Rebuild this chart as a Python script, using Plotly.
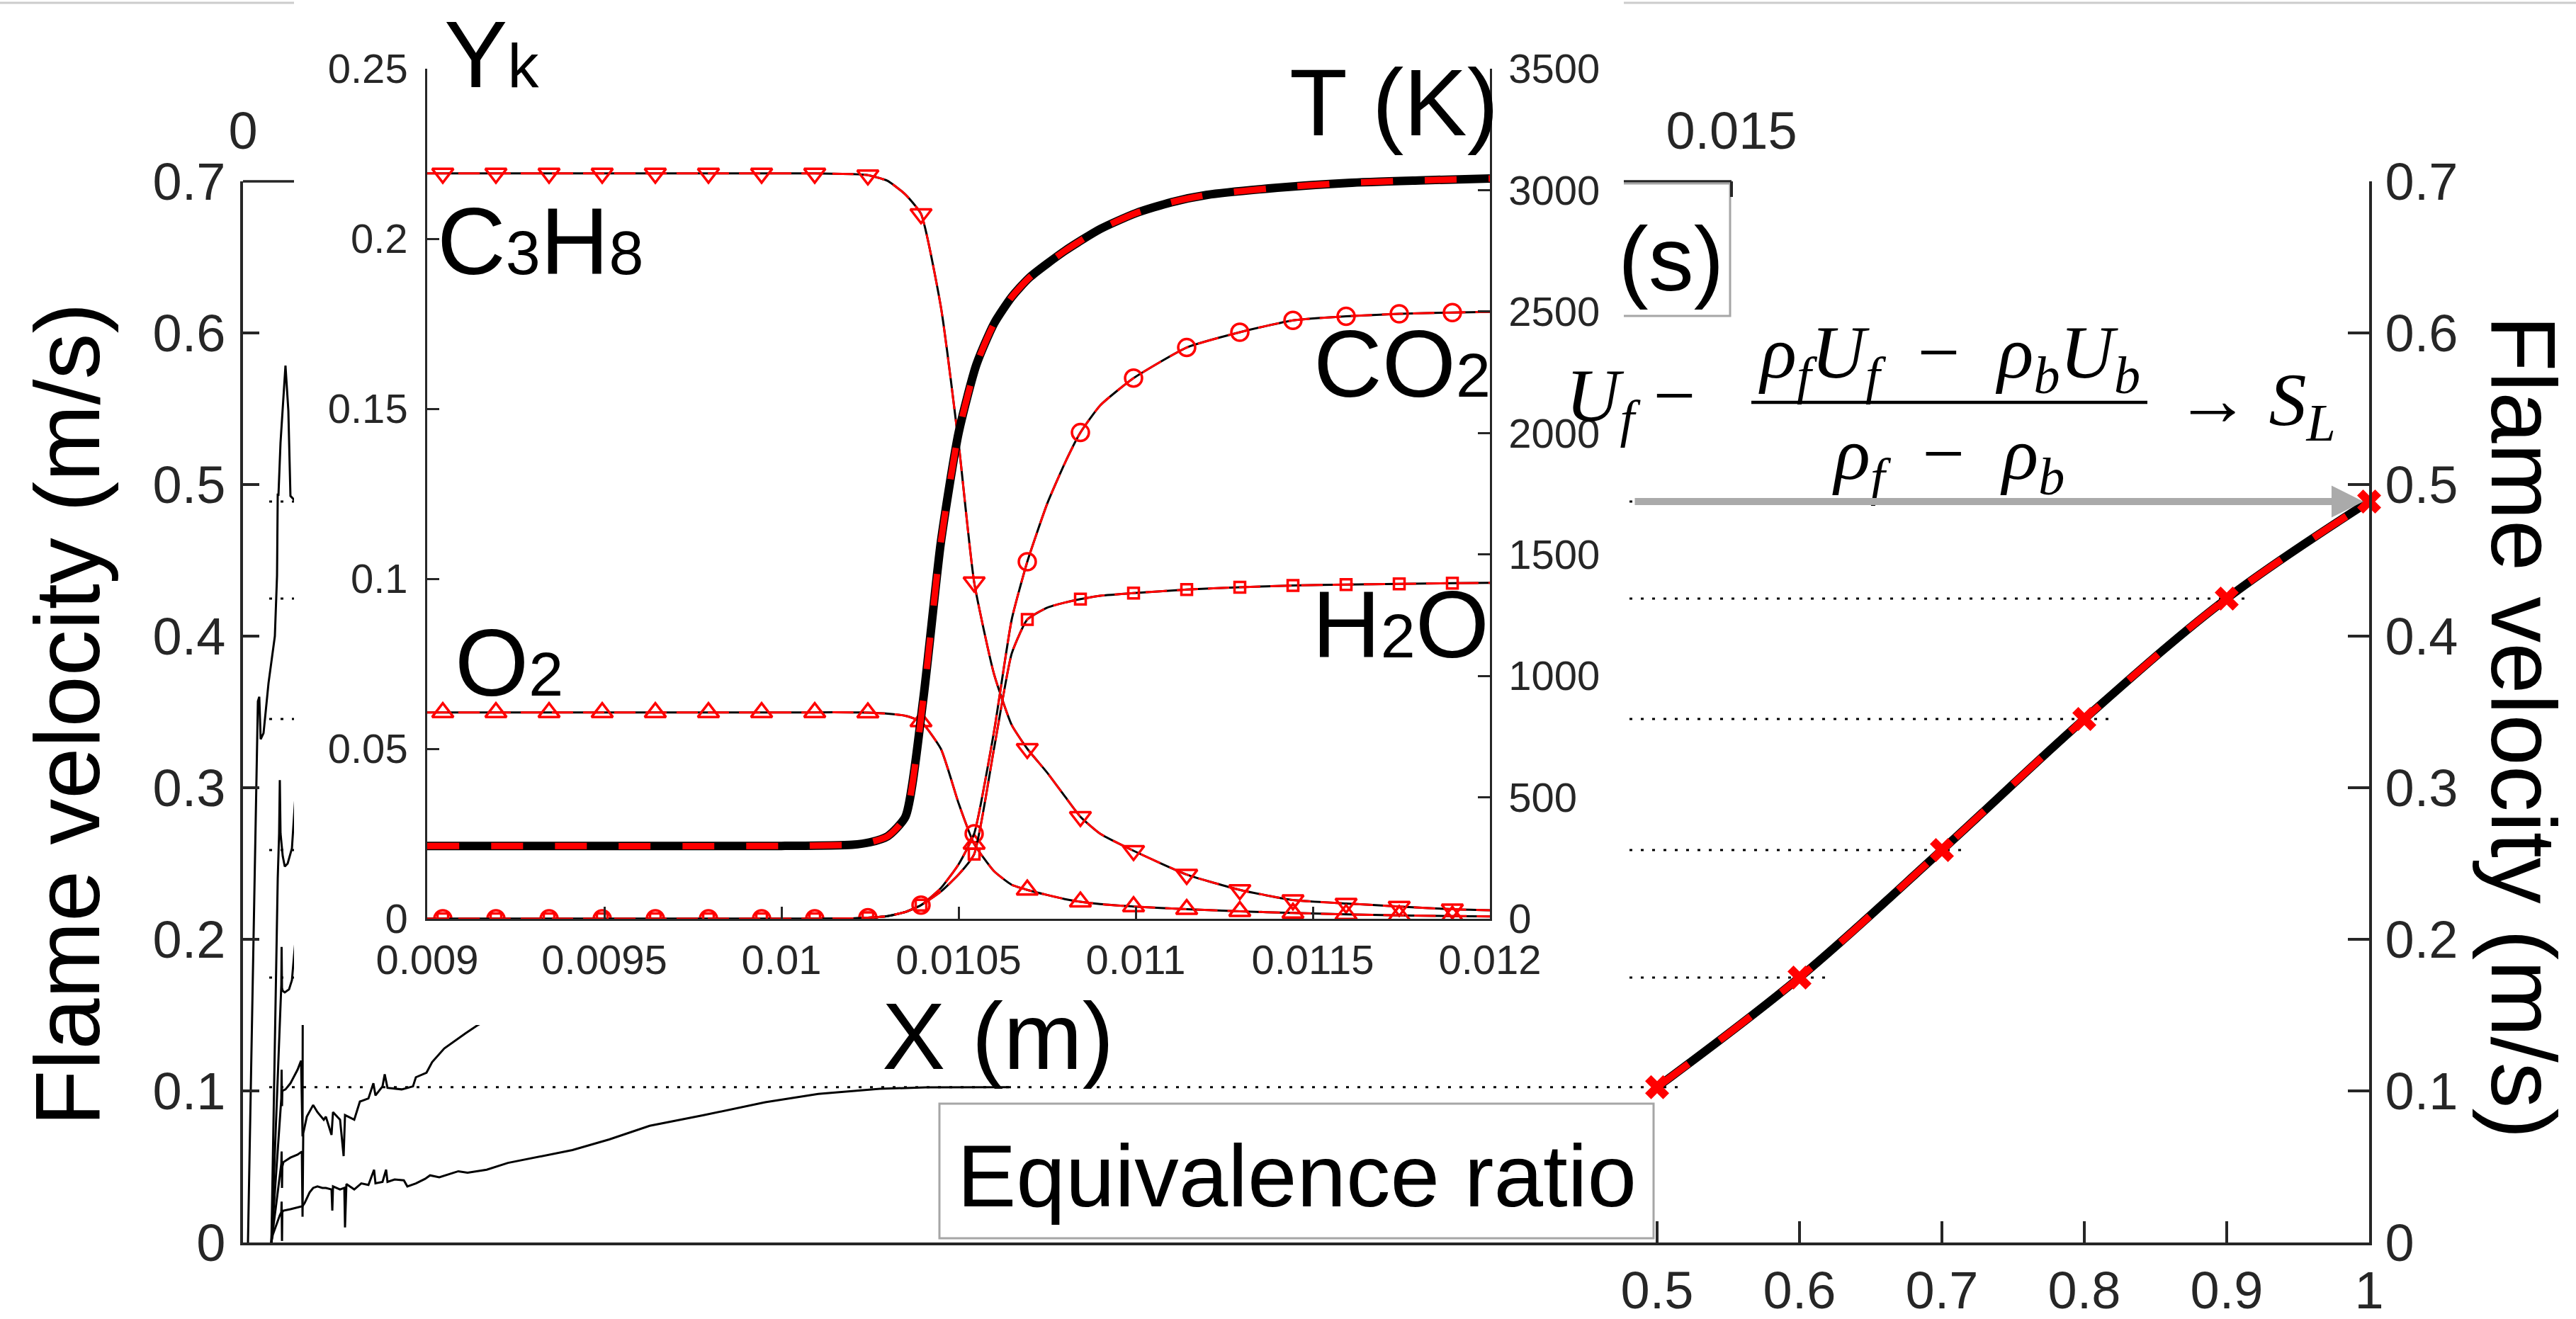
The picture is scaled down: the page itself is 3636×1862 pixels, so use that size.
import plotly.graph_objects as go

W, H = 3636, 1862
SANS = "Liberation Sans, Arial, Helvetica, sans-serif"
SERIF = "Liberation Serif, DejaVu Serif, serif"
AX = "#262626"

def px(x):
    return x / W

def py(y):
    return 1 - y / H

# ---------------- data: flame velocity transients vs time ----------------
T_PHI10 = [5.0e-5, 1.50e-4, 1.64e-4, 1.78e-4, 2.07e-4, 2.57e-4, 3.21e-4, 3.43e-4, 3.50e-4,
           3.57e-4, 3.78e-4, 4.28e-4, 4.57e-4, 4.78e-4, 5.14e-4, 6.00e-4]
V_PHI10 = [0.0, 0.357, 0.360, 0.332, 0.336, 0.369, 0.400, 0.440, 0.494,
           0.4925, 0.5276, 0.5785, 0.5486, 0.4925, 0.490, 0.490]

T_PHI09 = [2.86e-4, 3.50e-4, 3.64e-4, 3.71e-4, 3.78e-4, 4.00e-4, 4.21e-4, 4.50e-4, 4.93e-4, 5.21e-4, 6.00e-4]
V_PHI09 = [0.0, 0.240, 0.270, 0.305, 0.270, 0.255, 0.248, 0.250, 0.260, 0.288, 0.360]

T_PHI08 = [2.86e-4, 3.79e-4, 3.86e-4, 3.89e-4, 3.93e-4, 4.00e-4, 4.21e-4, 4.64e-4, 4.93e-4, 5.14e-4, 6.00e-4]
V_PHI08 = [0.0, 0.165, 0.170, 0.195, 0.168, 0.166, 0.165, 0.167, 0.173, 0.189, 0.250]

T_PHI07 = [2.86e-4, 3.86e-4, 3.89e-4, 3.93e-4, 3.96e-4, 4.28e-4, 4.78e-4, 5.50e-4, 5.85e-4, 6.00e-4, 6.03e-4]
V_PHI07 = [0.0, 0.095, 0.114, 0.090, 0.100, 0.101, 0.105, 0.114, 0.120, 0.070, 0.200]

T_PHI06 = [2.86e-4, 3.86e-4, 3.89e-4, 3.93e-4, 3.96e-4, 4.07e-4, 4.78e-4, 5.50e-4, 5.93e-4, 6.00e-4,
           6.07e-4, 6.43e-4, 7.07e-4, 7.50e-4, 8.14e-4, 8.35e-4, 8.92e-4, 9.07e-4, 9.78e-4, 1.014e-3,
           1.028e-3, 1.121e-3, 1.178e-3, 1.264e-3, 1.314e-3, 1.335e-3, 1.406e-3, 1.428e-3, 1.456e-3,
           1.599e-3, 1.713e-3, 1.742e-3, 1.849e-3, 1.906e-3, 2.028e-3, 2.242e-3, 2.356e-3, 2.549e-3]
V_PHI06 = [0.0, 0.052, 0.060, 0.036, 0.050, 0.053, 0.056, 0.058, 0.060, 0.017,
           0.072, 0.083, 0.0907, 0.086, 0.081, 0.083, 0.071, 0.086, 0.081, 0.057,
           0.084, 0.081, 0.093, 0.095, 0.105, 0.097, 0.103, 0.111, 0.102,
           0.101, 0.103, 0.109, 0.112, 0.119, 0.128, 0.138, 0.143, 0.150]

T_PHI05 = [2.86e-4, 3.00e-4, 3.71e-4, 3.86e-4, 3.89e-4, 3.93e-4, 3.96e-4, 4.07e-4, 4.78e-4, 5.50e-4,
           6.00e-4, 6.21e-4, 6.71e-4, 7.07e-4, 7.50e-4, 8.00e-4, 8.35e-4, 8.92e-4, 9.00e-4, 9.07e-4,
           9.78e-4, 1.021e-3, 1.028e-3, 1.042e-3, 1.121e-3, 1.192e-3, 1.264e-3, 1.321e-3, 1.335e-3,
           1.406e-3, 1.442e-3, 1.456e-3, 1.528e-3, 1.621e-3, 1.656e-3, 1.742e-3, 1.835e-3, 1.885e-3,
           1.978e-3, 2.120e-3, 2.170e-3, 2.263e-3, 2.456e-3, 2.670e-3, 3.027e-3, 3.320e-3, 3.691e-3,
           4.098e-3, 4.641e-3, 5.262e-3, 5.797e-3, 6.418e-3, 6.882e-3, 7.739e-3]
V_PHI05 = [0.0, 0.005, 0.018, 0.020, 0.027, 0.001, 0.020, 0.021, 0.022, 0.023,
           0.024, 0.026, 0.033, 0.036, 0.037, 0.036, 0.036, 0.035, 0.021, 0.037,
           0.035, 0.036, 0.010, 0.0385, 0.035, 0.039, 0.038, 0.048, 0.039,
           0.040, 0.048, 0.040, 0.0416, 0.041, 0.037, 0.039, 0.042, 0.0443,
           0.043, 0.046, 0.047, 0.046, 0.048, 0.0525, 0.057, 0.061, 0.068,
           0.077, 0.084, 0.0925, 0.098, 0.1014, 0.1023, 0.1025]

TIME_CURVES = [(T_PHI10, V_PHI10), (T_PHI09, V_PHI09), (T_PHI08, V_PHI08),
               (T_PHI07, V_PHI07), (T_PHI06, V_PHI06), (T_PHI05, V_PHI05)]

# ---------------- data: laminar flame speed vs equivalence ratio ----------------
PHI = [0.5, 0.6, 0.7, 0.8, 0.9, 1.0]
S_L = [0.1025, 0.1748, 0.2589, 0.3453, 0.4248, 0.4888]
PHI_TICKTEXT = ["0.5", "0.6", "0.7", "0.8", "0.9", "1"]
VEL_TICKS = [0, 0.1, 0.2, 0.3, 0.4, 0.5, 0.6, 0.7]
VEL_TICKTEXT = ["0", "0.1", "0.2", "0.3", "0.4", "0.5", "0.6", "0.7"]
TIME_TICKS = [0, 0.015]
TIME_TICKTEXT = ["0", "0.015"]

# ---------------- data: inset flame structure ----------------
X_T = [0.0090, 0.0100, 0.0102, 0.01025, 0.0103, 0.01035, 0.0104, 0.01045, 0.0105, 0.01055,
       0.0106, 0.01065, 0.0107, 0.0108, 0.0109, 0.0110, 0.0111, 0.0112, 0.0114, 0.0116,
       0.0118, 0.0120]
TEMP = [300, 300, 305, 315, 340, 420, 900, 1550, 2000, 2280,
        2450, 2560, 2640, 2750, 2840, 2905, 2950, 2980, 3010, 3030,
        3040, 3048]

X_SP = [0.0090, 0.009044, 0.009194, 0.009344, 0.009494, 0.009644, 0.009794, 0.009944, 0.010094,
        0.0102, 0.010244, 0.0103, 0.01035, 0.010394, 0.01045, 0.0105, 0.010544, 0.0106, 0.01065,
        0.010694, 0.01075, 0.0108, 0.010844, 0.0109, 0.010994, 0.011144, 0.011294, 0.011444,
        0.011594, 0.011744, 0.011894, 0.0120]
Y_C3H8 = [0.2192, 0.2192, 0.2192, 0.2192, 0.2192, 0.2192, 0.2192, 0.2192, 0.2192,
          0.2190, 0.2187, 0.2170, 0.2130, 0.2073, 0.180, 0.140, 0.099, 0.072, 0.057,
          0.050, 0.043, 0.036, 0.030, 0.025, 0.020, 0.013, 0.0085, 0.0055,
          0.0045, 0.0036, 0.0028, 0.0025]
Y_O2 = [0.0607, 0.0607, 0.0607, 0.0607, 0.0607, 0.0607, 0.0607, 0.0607, 0.0607,
        0.0607, 0.0606, 0.0603, 0.0597, 0.0580, 0.050, 0.034, 0.022, 0.014, 0.010,
        0.0085, 0.0070, 0.0058, 0.0050, 0.0043, 0.0036, 0.0028, 0.0022, 0.0017,
        0.0013, 0.0010, 0.0008, 0.0007]
Y_CO2 = [0.0, 0.0, 0.0, 0.0, 0.0, 0.0, 0.0, 0.0, 0.0,
         0.0001, 0.0003, 0.0008, 0.0020, 0.0040, 0.009, 0.016, 0.025, 0.055, 0.088,
         0.105, 0.122, 0.134, 0.143, 0.151, 0.159, 0.168, 0.1725, 0.1760,
         0.1772, 0.1779, 0.1783, 0.1785]
Y_H2O = [0.0, 0.0, 0.0, 0.0, 0.0, 0.0, 0.0, 0.0, 0.0,
         0.0001, 0.0003, 0.0008, 0.0020, 0.0040, 0.008, 0.013, 0.019, 0.050, 0.078,
         0.088, 0.0915, 0.0930, 0.0940, 0.0950, 0.0958, 0.0968, 0.0975, 0.0980,
         0.0983, 0.0985, 0.0987, 0.0988]
# indices of the reference samples that carry symbols
MARK_IDX = [1, 2, 3, 4, 5, 6, 7, 8, 10, 13, 16, 19, 22, 24, 25, 26, 27, 28, 29, 30]

X_TICKS = [0.009, 0.0095, 0.010, 0.0105, 0.011, 0.0115, 0.012]
X_TICKTEXT = ["0.009", "0.0095", "0.01", "0.0105", "0.011", "0.0115", "0.012"]
YK_TICKS = [0, 0.05, 0.10, 0.15, 0.20, 0.25]
YK_TICKTEXT = ["0", "0.05", "0.1", "0.15", "0.2", "0.25"]
T_TICKS = [0, 500, 1000, 1500, 2000, 2500, 3000, 3500]
T_TICKTEXT = ["0", "500", "1000", "1500", "2000", "2500", "3000", "3500"]

# ---------------- layout constants (pixels) ----------------
MAIN_L, MAIN_R, MAIN_T, MAIN_B = 343, 3344, 256, 1754
TIME_END_PX = 2444
PHI_PER_PX = 0.1 / 201.0
INS_L, INS_R, INS_T, INS_B = 603, 2103, 97, 1297
COVER_L, COVER_R, COVER_B = 415, 2292, 1447

phi_min = 1.0 - (MAIN_R - MAIN_L) * PHI_PER_PX
t_max = 0.015 * (MAIN_R - MAIN_L) / (TIME_END_PX - MAIN_L)
DOT_START = 1.0 - (MAIN_R - 380) * PHI_PER_PX
DOT_OVER = 36 * PHI_PER_PX

fig = go.Figure()

# dotted guide lines (main x = equivalence ratio axis)
for p, s in zip(PHI, S_L):
    fig.add_trace(go.Scatter(x=[DOT_START, p + DOT_OVER], y=[s, s], mode="lines",
                             line=dict(color="black", width=3, dash="4px,12px"),
                             xaxis="x", yaxis="y", hoverinfo="skip"))

# transient curves on the time axis
for tt, vv in TIME_CURVES:
    fig.add_trace(go.Scatter(x=tt, y=vv, mode="lines", line=dict(color="black", width=3),
                             xaxis="x2", yaxis="y", hoverinfo="skip"))

# flame speed vs equivalence ratio
fig.add_trace(go.Scatter(x=PHI, y=S_L, mode="lines", line=dict(color="black", width=12, shape="spline"),
                         xaxis="x", yaxis="y2", hoverinfo="skip"))
fig.add_trace(go.Scatter(x=PHI, y=S_L, mode="lines+markers",
                         line=dict(color="red", width=10, dash="55px,55px", shape="spline"),
                         marker=dict(symbol="x", size=30, color="red"), cliponaxis=False,
                         xaxis="x", yaxis="y2", hoverinfo="skip"))

# cover subplot (white background)
fig.add_trace(go.Scatter(x=[], y=[], xaxis="x3", yaxis="y3", hoverinfo="skip"))

# inset species
species = [(Y_C3H8, "triangle-down-open", 26),
           (Y_O2, "triangle-up-open", 26),
           (Y_CO2, "circle-open", 24),
           (Y_H2O, "square-open", 15)]
for yl, sym, sz in species:
    fig.add_trace(go.Scatter(x=X_SP, y=yl, mode="lines",
                             line=dict(color="black", width=3, shape="spline", smoothing=0.5),
                             xaxis="x4", yaxis="y4", hoverinfo="skip"))
    fig.add_trace(go.Scatter(x=X_SP, y=yl, mode="lines",
                             line=dict(color="red", width=3, dash="30px,14px", shape="spline", smoothing=0.5),
                             xaxis="x4", yaxis="y4", hoverinfo="skip"))
    fig.add_trace(go.Scatter(x=[X_SP[i] for i in MARK_IDX], y=[yl[i] for i in MARK_IDX], mode="markers",
                             marker=dict(symbol=sym, size=sz, color="red", line=dict(color="red", width=3.5)),
                             xaxis="x4", yaxis="y4", hoverinfo="skip"))

fig.add_trace(go.Scatter(x=X_T, y=TEMP, mode="lines",
                         line=dict(color="black", width=12, shape="spline", smoothing=0.6),
                         xaxis="x4", yaxis="y5", hoverinfo="skip"))
fig.add_trace(go.Scatter(x=X_T, y=TEMP, mode="lines",
                         line=dict(color="red", width=9, dash="45px,45px", shape="spline", smoothing=0.6),
                         xaxis="x4", yaxis="y5", hoverinfo="skip"))

main_tick = dict(size=74, color=AX, family=SANS)
ins_tick = dict(size=58, color=AX, family=SANS)
common = dict(showgrid=False, zeroline=False, ticks="inside", tickcolor=AX, linecolor=AX,
              automargin=False)
hidden = dict(showline=False, showticklabels=False, ticks="", showgrid=False, zeroline=False,
              automargin=False)

fig.update_layout(
    width=W, height=H, margin=dict(l=0, r=0, t=0, b=0, pad=0, autoexpand=False),
    paper_bgcolor="white", plot_bgcolor="white", showlegend=False,
    xaxis=dict(domain=[px(MAIN_L), px(MAIN_R)], range=[phi_min, 1.0], anchor="y", side="bottom",
               tickvals=PHI, ticktext=PHI_TICKTEXT, ticklen=30, tickwidth=3.5, showline=True,
               linewidth=3.5, tickfont=main_tick, ticklabelstandoff=0, **common),
    xaxis2=dict(overlaying="x", side="top", range=[0, t_max], anchor="y",
                tickvals=TIME_TICKS, ticktext=TIME_TICKTEXT, ticklen=22, tickwidth=3.5,
                showline=False, tickfont=main_tick, ticklabelstandoff=30, **common),
    yaxis=dict(domain=[py(MAIN_B), py(MAIN_T)], range=[0, 0.7], anchor="x",
               tickvals=VEL_TICKS, ticktext=VEL_TICKTEXT, ticklen=23, tickwidth=3.5, showline=True,
               linewidth=3.5, tickfont=main_tick, ticklabelstandoff=6, **common),
    yaxis2=dict(overlaying="y", side="right", range=[0, 0.7], anchor="x",
                tickvals=VEL_TICKS, ticktext=VEL_TICKTEXT, ticklen=30, tickwidth=3.5, showline=True,
                linewidth=3.5, tickfont=main_tick, ticklabelstandoff=4, **common),
    xaxis3=dict(domain=[px(COVER_L), px(COVER_R)], range=[0, 1], anchor="y3", **hidden),
    yaxis3=dict(domain=[py(COVER_B), 1.0], range=[0, 1], anchor="x3", **hidden),
    xaxis4=dict(domain=[px(INS_L), px(INS_R)], range=[0.009, 0.012], anchor="y4",
                tickvals=X_TICKS, ticktext=X_TICKTEXT, ticklen=17, tickwidth=2.5, showline=True,
                linewidth=2.5, tickfont=ins_tick, ticklabelstandoff=6, **common),
    yaxis4=dict(domain=[py(INS_B), py(INS_T)], range=[0, 0.25], anchor="x4",
                tickvals=YK_TICKS, ticktext=YK_TICKTEXT, ticklen=17, tickwidth=2.5, showline=True,
                linewidth=2.5, tickfont=ins_tick, ticklabelstandoff=13, **common),
    yaxis5=dict(overlaying="y4", side="right", range=[0, 3500], anchor="x4",
                tickvals=T_TICKS, ticktext=T_TICKTEXT, ticklen=17, tickwidth=2.5, showline=True,
                linewidth=2.5, tickfont=ins_tick, ticklabelstandoff=12, **common),
)

GRAY = "#a6a6a6"
shapes = [
    dict(type="line", xref="paper", yref="paper", x0=0, x1=1, y0=py(4), y1=py(4),
         line=dict(color="#cccccc", width=3), layer="below"),
    dict(type="line", xref="x2", yref="paper", x0=0, x1=0.015, y0=py(MAIN_T), y1=py(MAIN_T),
         line=dict(color=AX, width=3.5), layer="below"),
    dict(type="rect", xref="paper", yref="paper", x0=px(2150), x1=px(2442), y0=py(446), y1=py(259),
         line=dict(color=GRAY, width=3), layer="below"),
    dict(type="rect", xref="paper", yref="paper", x0=px(1326), x1=px(2334), y0=py(1748), y1=py(1558),
         line=dict(color=GRAY, width=3), layer="below"),
    dict(type="line", xref="paper", yref="paper", x0=px(2472), x1=px(3031), y0=py(568), y1=py(568),
         line=dict(color="black", width=4.5), layer="above"),
]
fig.update_layout(shapes=shapes)

def sub(t, size):
    return '<span style="font-size:%dpx">%s</span>' % (size, t)

BIG = 134
SB = 88
ann = []
def txt(text, x, y, size, xanchor="left", angle=0, family=SANS, yanchor="middle"):
    ann.append(dict(text=text, x=px(x), y=py(y), xref="paper", yref="paper", showarrow=False,
                    xanchor=xanchor, yanchor=yanchor, textangle=angle,
                    font=dict(size=size, color="black", family=family)))

txt("Flame velocity (m/s)", 95, 1009, 130, "center", -90)
txt("Flame velocity (m/s)", 3562, 1026, 130, "center", 90)
txt("(s)", 2358, 366, 128, "center")
txt("Equivalence ratio", 1830, 1659, 125, "center")
txt("Y" + sub("k", SB), 625, 0, BIG, yanchor="top")
txt("T (K)", 1818, 144, BIG)
txt("C" + sub("3", SB) + "H" + sub("8", SB), 615, 340, BIG)
txt("O" + sub("2", SB), 640, 935, BIG)
txt("CO" + sub("2", SB), 1852, 513, BIG)
txt("H" + sub("2", SB) + "O", 1850, 881, BIG)
txt("X (m)", 1243, 1462, BIG)

FS = 106
txt("<i>U<sub>f</sub></i> \u2212", 2208, 566, FS, "left", 0, SERIF)
txt("<i>\u03c1<sub>f</sub>U<sub>f</sub></i>  \u2212  <i>\u03c1<sub>b</sub>U<sub>b</sub></i>", 2751, 505, FS, "center", 0, SERIF)
txt("<i>\u03c1<sub>f</sub></i>  \u2212  <i>\u03c1<sub>b</sub></i>", 2750, 648, FS, "center", 0, SERIF)
txt("\u2192 <i>S<sub>L</sub></i>", 3068, 572, FS, "left", 0, SERIF)

ann.append(dict(x=0.996, y=S_L[-1], ax=1.0 - (MAIN_R - 2306) * PHI_PER_PX, ay=S_L[-1],
                xref="x", yref="y", axref="x", ayref="y", text="", showarrow=True,
                arrowhead=2, arrowsize=0.9, arrowwidth=10, arrowcolor="#aaaaaa"))

fig.update_layout(annotations=ann)

fig.write_html("out.html", config={"displayModeBar": False})
